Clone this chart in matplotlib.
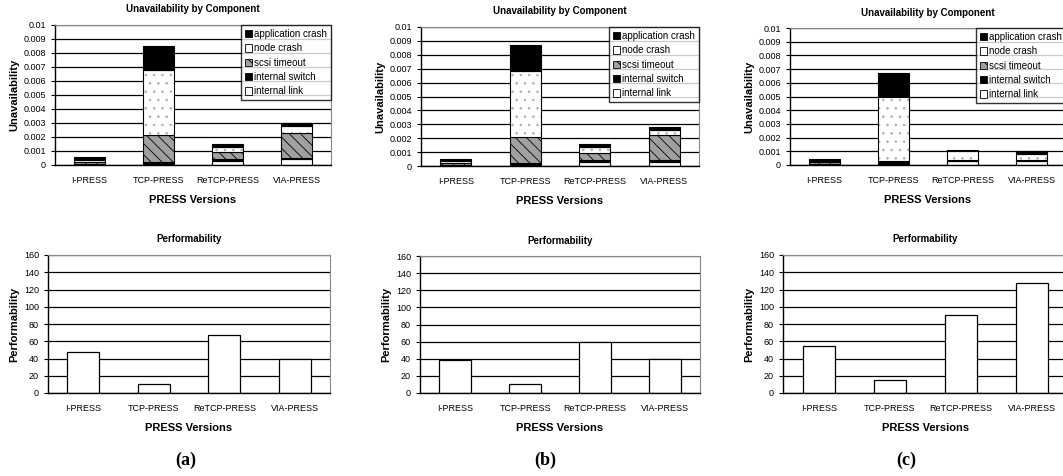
import matplotlib
matplotlib.use("Agg")
import matplotlib.pyplot as plt
from matplotlib.patches import Patch
import numpy as np

plt.rcParams['font.family'] = ['Liberation Sans', 'DejaVu Sans']
plt.rcParams['hatch.linewidth'] = 0.6

versions = ["I-PRESS", "TCP-PRESS", "ReTCP-PRESS", "VIA-PRESS"]
components = ["internal link", "internal switch", "scsi timeout", "node crash", "application crash"]

# unavailability per component (bottom to top of the stack), one block per panel
unavail_a = {
    "internal link":     [0.00005, 0.0001,  0.0003, 0.0004],
    "internal switch":   [0.00003, 0.00012, 0.0001, 0.0001],
    "scsi timeout":      [0.00017, 0.0019,  0.0005, 0.0018],
    "node crash":        [0.0001,  0.0047,  0.0004, 0.0005],
    "application crash": [0.0002,  0.0017,  0.0002, 0.0002],
}
unavail_b = {
    "internal link":     [0.00005, 0.0001,  0.0003, 0.0003],
    "internal switch":   [0.00003, 0.00012, 0.0001, 0.0001],
    "scsi timeout":      [0.00015, 0.0019,  0.0005, 0.0018],
    "node crash":        [0.0001,  0.0047,  0.0005, 0.0004],
    "application crash": [0.00017, 0.0019,  0.0002, 0.0002],
}
unavail_c = {
    "internal link":     [0.00005, 0.0001,  0.0003, 0.0003],
    "internal switch":   [0.00003, 0.00015, 0.0001, 0.0001],
    "scsi timeout":      [0.00012, 0.00005, 0.0,    0.0],
    "node crash":        [0.0001,  0.0047,  0.0006, 0.0004],
    "application crash": [0.00015, 0.0017,  0.0001, 0.0002],
}
perf_a = [47, 11, 67, 40]
perf_b = [38, 10, 59, 40]
perf_c = [55, 15, 90, 128]

# face colour, hatch, hatch colour
styles = {
    "internal link":     ("white", None, "black"),
    "internal switch":   ("black", "....", "#555555"),
    "scsi timeout":      ("#a0a0a0", "\\\\\\", "black"),
    "node crash":        ("white", "..", "#b0b0b0"),
    "application crash": ("black", None, "black"),
}

W, H = 1063, 476
fig = plt.figure(figsize=(W / 100, H / 100), dpi=100)


def rect(l, t, r, b):
    return [l / W, 1 - b / H, (r - l) / W, (b - t) / H]


def style_axes(ax):
    ax.set_axisbelow(True)
    ax.yaxis.grid(True, color="black", linewidth=0.9)
    ax.spines["top"].set_color("#888888")
    ax.spines["right"].set_color("#888888")
    ax.spines["left"].set_linewidth(1.0)
    ax.spines["bottom"].set_linewidth(1.0)
    ax.tick_params(axis="both", labelsize=6.5, length=3, width=0.8, colors="black")
    ax.tick_params(axis="x", length=0, pad=8)
    ax.set_xlim(-0.5, 3.5)
    ax.set_xlabel("PRESS Versions", fontsize=8, fontweight="bold", labelpad=7)


def unavail_panel(box, data):
    ax = fig.add_axes(rect(*box))
    x = np.arange(len(versions))
    bottom = np.zeros(len(versions))
    for comp in components:
        vals = np.array(data[comp])
        fc, hatch, hc = styles[comp]
        ax.bar(x, vals, 0.45, bottom=bottom, color=fc, hatch=hatch, edgecolor=hc, linewidth=0)
        ax.bar(x, vals, 0.45, bottom=bottom, fill=False, edgecolor="black", linewidth=0.8)
        bottom += vals
    ax.set_ylim(0, 0.01)
    ax.set_yticks(np.arange(0, 0.0101, 0.001))
    ax.set_yticklabels(["0"] + ["%g" % v for v in np.round(np.arange(0.001, 0.0101, 0.001), 3)])
    ax.set_xticks(x)
    ax.set_xticklabels(versions)
    style_axes(ax)
    ax.set_ylabel("Unavailability", fontsize=8, fontweight="bold", labelpad=3)
    ax.set_title("Unavailability by Component", fontsize=7, fontweight="bold", pad=9)
    handles = []
    for comp in components[::-1]:
        fc, hatch, hc = styles[comp]
        if comp == "node crash":
            hatch = None
        handles.append(Patch(facecolor=fc, hatch=hatch, edgecolor="black", linewidth=0.6, label=comp))
    leg = ax.legend(handles=handles, loc="upper right", fontsize=7, frameon=True, fancybox=False,
                    handlelength=0.8, handleheight=0.8, handletextpad=0.2, labelspacing=0.45,
                    borderpad=0.4, borderaxespad=0)
    leg.get_frame().set_edgecolor("black")
    leg.get_frame().set_linewidth(1.0)
    return ax


def perf_panel(box, vals):
    ax = fig.add_axes(rect(*box))
    x = np.arange(len(versions))
    ax.bar(x, vals, 0.45, color="white", edgecolor="black", linewidth=0.9)
    ax.set_ylim(0, 160)
    ax.set_yticks(np.arange(0, 161, 20))
    ax.set_xticks(x)
    ax.set_xticklabels(versions)
    style_axes(ax)
    ax.set_ylabel("Performability", fontsize=8, fontweight="bold", labelpad=3)
    ax.set_title("Performability", fontsize=7, fontweight="bold", pad=9)
    return ax


unavail_panel((55, 25, 331, 165), unavail_a)
unavail_panel((421, 27, 699, 166), unavail_b)
unavail_panel((790, 28, 1066, 165), unavail_c)

perf_panel((48, 255, 330, 393), perf_a)
perf_panel((420, 256, 700, 393), perf_b)
perf_panel((783, 255, 1068, 393), perf_c)

for lbl, xc in [("(a)", 186), ("(b)", 545), ("(c)", 906)]:
    fig.text(xc / W, 1 - 460 / H, lbl, ha="center", va="center", fontsize=13,
             fontweight="bold", family="Liberation Serif")

fig.savefig("out.png", dpi=100)
